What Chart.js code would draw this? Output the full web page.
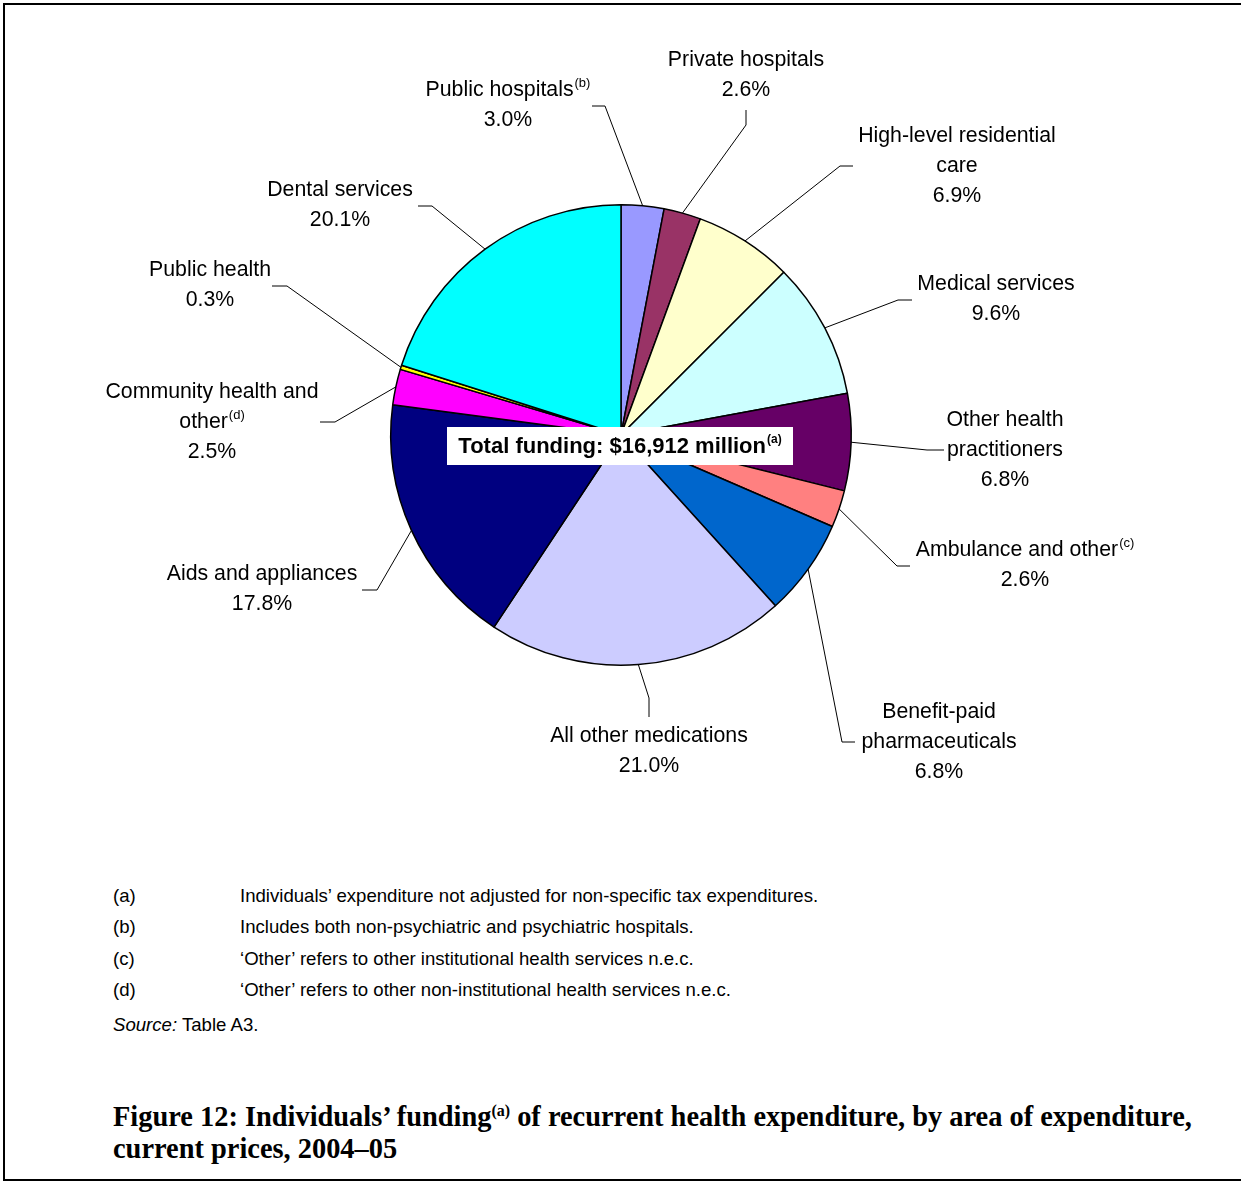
<!DOCTYPE html>
<html>
<head>
<meta charset="utf-8">
<title>Individuals' funding of recurrent health expenditure, 2004-05</title>
<script src="https://cdn.jsdelivr.net/npm/chart.js@4.4.0/dist/chart.umd.min.js"></script>
<style>
    body { margin: 0; background: #fff; width: 1241px; height: 1181px; position: relative; overflow: hidden;
           font-family: "Liberation Sans", Arial, sans-serif; color: #000; }
    #frame { position: absolute; left: 3px; top: 3px; width: 1300px; height: 1174px;
             border-left: 2px solid #000; border-top: 2px solid #000; border-bottom: 2px solid #000; }
    #wrap { position: absolute; left: 0; top: 0; width: 1241px; height: 860px; }
    .fn { position: absolute; font-size: 18.6px; line-height: 20px; white-space: nowrap; }
    .fn .k { position: absolute; left: 0; }
    .fn .t { position: absolute; left: 127px; }
    #title { position: absolute; left: 113px; top: 1101px; font-family: "Liberation Serif", "Times New Roman", serif;
             font-weight: bold; font-size: 28.4px; line-height: 32px; white-space: nowrap; }
    #title sup { font-size: 16px; vertical-align: 10px; line-height: 0; }
</style>
</head>
<body>
<div id="frame"></div>
<div id="wrap"><canvas id="pieChart"></canvas></div>

<div class="fn" style="left:113px;top:886px"><span class="k">(a)</span><span class="t">Individuals’ expenditure not adjusted for non-specific tax expenditures.</span></div>
<div class="fn" style="left:113px;top:917px"><span class="k">(b)</span><span class="t">Includes both non-psychiatric and psychiatric hospitals.</span></div>
<div class="fn" style="left:113px;top:949px"><span class="k">(c)</span><span class="t">‘Other’ refers to other institutional health services n.e.c.</span></div>
<div class="fn" style="left:113px;top:980px"><span class="k">(d)</span><span class="t">‘Other’ refers to other non-institutional health services n.e.c.</span></div>
<div class="fn" style="left:113px;top:1015px"><i>Source:</i> Table A3.</div>

<div id="title">Figure 12: Individuals’ funding<sup>(a)</sup> of recurrent health expenditure, by area of expenditure,<br>current prices, 2004–05</div>

<script>
// areas of expenditure, clockwise from 12 o'clock
const categories = [
    'Public hospitals', 'Private hospitals', 'High-level residential care', 'Medical services',
    'Other health practitioners', 'Ambulance and other', 'Benefit-paid pharmaceuticals',
    'All other medications', 'Aids and appliances', 'Community health and other',
    'Public health', 'Dental services'
];
const shares = [3.0, 2.6, 6.9, 9.6, 6.8, 2.6, 6.8, 21.0, 17.8, 2.5, 0.3, 20.1];
const footnoteMarks = ['b', '', '', '', '', 'c', '', '', '', 'd', '', ''];
const totalFunding = 16912; // $ million

const sliceColors = [
    '#9999FF', '#993366', '#FFFFCC', '#CCFFFF', '#660066', '#FF8080',
    '#0066CC', '#CCCCFF', '#000080', '#FF00FF', '#FFFF00', '#00FFFF'
];

// how each category name wraps in its label
const labelLines = [
    ['Public hospitals'], ['Private hospitals'], ['High-level residential', 'care'], ['Medical services'],
    ['Other health', 'practitioners'], ['Ambulance and other'], ['Benefit-paid', 'pharmaceuticals'],
    ['All other medications'], ['Aids and appliances'], ['Community health and', 'other'],
    ['Public health'], ['Dental services']
];

// label placement: centre x, first line y, leader end and elbow
const labelPos = [
    { x: 508, y: 90,  leader: [[592, 106], [605, 106]] },
    { x: 746, y: 60,  leader: [[746, 110], [746, 125]] },
    { x: 957, y: 136, leader: [[853, 166], [840, 166]] },
    { x: 996, y: 284, leader: [[912, 300], [898, 300]] },
    { x: 1005, y: 420, leader: [[944, 450], [927, 450]] },
    { x: 1025, y: 550, leader: [[910, 566], [897, 566]] },
    { x: 939, y: 712, leader: [[855, 742], [842, 742]] },
    { x: 649, y: 736, leader: [[649, 717], [649, 698]] },
    { x: 262, y: 574, leader: [[362, 590], [377, 590]] },
    { x: 212, y: 392, leader: [[320, 422], [335, 422]] },
    { x: 210, y: 270, leader: [[272, 286], [287, 286]] },
    { x: 340, y: 190, leader: [[418, 206], [432, 206]] }
];

const LABEL_FONT = '21.3px "Liberation Sans", Arial, sans-serif';
const SUP_FONT = '13px "Liberation Sans", Arial, sans-serif';
const LINE_GAP = 30;

function drawLine(ctx, text, sup, cx, cy, font, supFont) {
    ctx.font = font;
    const w = ctx.measureText(text).width;
    let sw = 0;
    if (sup) {
        ctx.font = supFont;
        sw = ctx.measureText(sup).width + 1;
    }
    const left = cx - (w + sw) / 2;
    ctx.font = font;
    ctx.textAlign = 'left';
    ctx.textBaseline = 'middle';
    ctx.fillText(text, left, cy);
    if (sup) {
        ctx.font = supFont;
        ctx.fillText(sup, left + w + 1, cy - 7);
    }
}

const labelPlugin = {
    id: 'pieLabels',
    afterDraw(chart) {
        const ctx = chart.ctx;
        const arcs = chart.getDatasetMeta(0).data;
        ctx.save();
        ctx.fillStyle = '#000';
        ctx.strokeStyle = '#000';
        ctx.lineWidth = 1;

        arcs.forEach((arc, i) => {
            const p = arc.getProps(['x', 'y', 'startAngle', 'endAngle', 'outerRadius'], true);
            const mid = (p.startAngle + p.endAngle) / 2;
            const ax = p.x + Math.cos(mid) * p.outerRadius;
            const ay = p.y + Math.sin(mid) * p.outerRadius;
            const pos = labelPos[i];

            // leader line
            ctx.beginPath();
            ctx.moveTo(pos.leader[0][0], pos.leader[0][1]);
            ctx.lineTo(pos.leader[1][0], pos.leader[1][1]);
            ctx.lineTo(ax, ay);
            ctx.stroke();

            // label text
            const lines = labelLines[i];
            lines.forEach((ln, k) => {
                const sup = (k === lines.length - 1 && footnoteMarks[i]) ? '(' + footnoteMarks[i] + ')' : '';
                drawLine(ctx, ln, sup, pos.x, pos.y + k * LINE_GAP, LABEL_FONT, SUP_FONT);
            });
            drawLine(ctx, shares[i].toFixed(1) + '%', '', pos.x, pos.y + lines.length * LINE_GAP, LABEL_FONT, SUP_FONT);
        });

        // total funding box in the middle of the pie
        ctx.fillStyle = '#fff';
        ctx.fillRect(447, 427, 346, 38);
        ctx.fillStyle = '#000';
        drawLine(ctx, 'Total funding: $' + totalFunding.toLocaleString('en-US') + ' million', '(a)', 620, 447,
            'bold 22px "Liberation Sans", Arial, sans-serif', 'bold 12px "Liberation Sans", Arial, sans-serif');
        ctx.restore();
    }
};

new Chart(document.getElementById('pieChart'), {
    type: 'pie',
    data: {
        labels: categories,
        datasets: [{
            data: shares,
            backgroundColor: sliceColors,
            borderColor: '#000',
            borderWidth: 1.5
        }]
    },
    options: {
        responsive: true,
        maintainAspectRatio: false,
        animation: false,
        layout: { padding: { left: 390, right: 389, top: 204, bottom: 194 } },
        plugins: {
            legend: { display: false },
            tooltip: { enabled: false }
        }
    },
    plugins: [labelPlugin]
});
</script>
</body>
</html>
